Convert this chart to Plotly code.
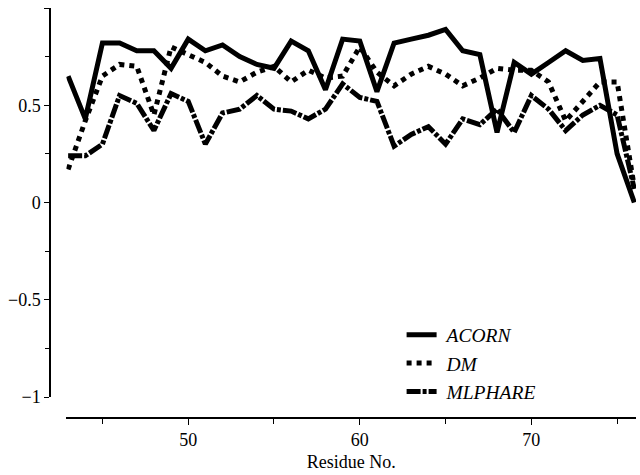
import plotly.graph_objects as go

residues = list(range(43, 77))
acorn = [0.65, 0.43, 0.82, 0.82, 0.78, 0.78, 0.69, 0.84, 0.78, 0.81, 0.75, 0.71,
         0.69, 0.83, 0.78, 0.58, 0.84, 0.83, 0.57, 0.82, 0.84, 0.86, 0.89, 0.78,
         0.76, 0.36, 0.72, 0.66, 0.72, 0.78, 0.73, 0.74, 0.25, 0.0]
dm = [0.17, 0.42, 0.65, 0.71, 0.70, 0.45, 0.80, 0.76, 0.72, 0.65, 0.62, 0.67,
      0.70, 0.62, 0.68, 0.64, 0.65, 0.80, 0.67, 0.60, 0.66, 0.70, 0.66, 0.60,
      0.64, 0.69, 0.68, 0.68, 0.62, 0.42, 0.52, 0.62, 0.62, 0.08]
mlphare = [0.24, 0.24, 0.30, 0.55, 0.51, 0.37, 0.56, 0.52, 0.30, 0.46, 0.48, 0.55,
           0.48, 0.47, 0.43, 0.48, 0.61, 0.54, 0.52, 0.29, 0.35, 0.39, 0.30, 0.43,
           0.40, 0.48, 0.36, 0.55, 0.48, 0.37, 0.45, 0.50, 0.45, 0.07]

names = ["ACORN", "DM", "MLPHARE"]
series = [acorn, dm, mlphare]
dashes = ["solid", "dot", "14px,2px,4px,2px"]

FONT = "Times New Roman, Liberation Serif, serif"
fig = go.Figure()
for nm, ys, ds in zip(names, series, dashes):
    fig.add_trace(go.Scatter(
        x=residues, y=ys, mode="lines", name=f"\u00a0<i>{nm}</i>",
        line=dict(color="black", width=5, dash=ds),
    ))

fig.update_layout(
    width=640, height=475,
    margin=dict(l=50, r=4, t=8, b=57),
    paper_bgcolor="white", plot_bgcolor="white",
    font=dict(family=FONT, size=18, color="black"),
    showlegend=True,
    legend=dict(x=0.6, y=0.25, xanchor="left", yanchor="top",
                font=dict(family=FONT, size=19.5, color="black"),
                bgcolor="rgba(0,0,0,0)", tracegroupgap=0),
    xaxis=dict(
        range=[42.9, 76.1], domain=[0.028, 1], anchor="free", position=0,
        showgrid=False, zeroline=False, showline=True, linecolor="black", linewidth=1.5,
        ticks="outside", ticklen=6, tickwidth=1.2, tickcolor="black",
        tickmode="array", tickvals=[50, 60, 70],
        minor=dict(tickvals=[45, 55, 65, 75], ticks="outside", ticklen=5, tickcolor="black"),
        title=dict(text="Residue No.", standoff=5, font=dict(family=FONT, size=18)),
        tickfont=dict(family=FONT, size=18),
    ),
    yaxis=dict(
        range=[-1, 1], domain=[0.0512, 1], anchor="free", position=0,
        showgrid=False, zeroline=False, showline=True, linecolor="black", linewidth=1.5,
        ticks="outside", ticklen=5, tickwidth=1.2, tickcolor="black",
        tickmode="array", tickvals=[-1, -0.5, 0, 0.5, 1],
        ticktext=["\u22121", "\u22120.5", "0", "0.5", "1"],
        minor=dict(tickvals=[-0.75, -0.25, 0.25, 0.75], ticks="outside", ticklen=4, tickcolor="black"),
        tickfont=dict(family=FONT, size=18),
    ),
)

fig.write_html("out.html")
